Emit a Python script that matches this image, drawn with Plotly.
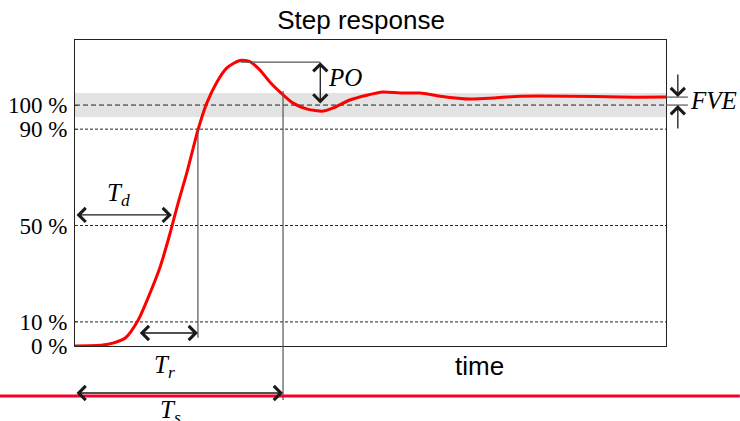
import plotly.graph_objects as go

# ---------------- data ----------------
time = [0.00, 0.47, 0.64, 0.85, 1.07, 1.27, 1.44, 1.61, 1.74, 1.90, 2.08, 2.23,
        2.40, 2.57, 2.79, 2.96, 3.13, 3.30, 3.47, 3.69, 3.93, 4.20, 4.37,
        4.65, 4.94, 5.21, 5.50, 5.84, 6.18, 6.68, 7.07, 7.53, 8.38, 9.22, 10.0]
response = [0.0, 0.4, 1.2, 3.3, 10.8, 22.0, 32.8, 46.9, 58.9, 72.6, 89.6, 100.8,
            109.5, 115.4, 118.5, 118.0, 114.5, 109.5, 105.4, 100.8, 98.3, 97.5, 98.8,
            102.1, 104.1, 105.4, 105.0, 105.0, 103.7, 102.5, 102.9, 103.7, 103.7, 103.3, 103.3]

levels = [0, 10, 50, 90, 100]
level_labels = ["0 %", "10 %", "50 %", "90 %", "100 %"]
band = [95, 105]

t_delay, delay_level = 1.64, 54.4
t_10, t_90, rise_level = 1.07, 2.08, 5.4
t_settle, settle_top, settle_level, settle_bottom = 3.52, 105.8, -19.5, -22.4
t_peak, peak_level, t_po = 2.88, 117.8, 4.15
final_value = 103.3
t_fve, t_fve_tick = 10.20, 10.37
bottom_line_level, bottom_line_t = -20.7, [-1.27, 11.25]

X_RANGE = [0, 10]
Y_RANGE = [0, 127]


def xp(t):
    return (t - X_RANGE[0]) / (X_RANGE[1] - X_RANGE[0])


def yp(v):
    return (v - Y_RANGE[0]) / (Y_RANGE[1] - Y_RANGE[0])


SERIF = "Liberation Serif, Times New Roman, serif"
SANS = "Liberation Sans, Arial, sans-serif"
ARROW_COLOR = "#1a1a1a"
LINE_GRAY = "#555555"

fig = go.Figure()
fig.add_trace(go.Scatter(x=time, y=response, mode="lines",
                         line=dict(color="#ff0000", width=3, shape="spline", smoothing=0.7),
                         hoverinfo="skip", showlegend=False))

shapes = []
# tolerance band
shapes.append(dict(type="rect", xref="x", yref="y", x0=X_RANGE[0], x1=X_RANGE[1],
                   y0=band[0], y1=band[1], fillcolor="#e3e3e3", line=dict(width=0), layer="below"))
# level lines
for lv in levels[1:]:
    dash = "5px,3px" if lv == 100 else "3px,2px"
    shapes.append(dict(type="line", xref="x", yref="y", x0=X_RANGE[0], x1=X_RANGE[1],
                       y0=lv, y1=lv, line=dict(color="#222222", width=1, dash=dash), layer="below"))
# rise-time vertical
shapes.append(dict(type="line", xref="x", yref="y", x0=t_90, x1=t_90, y0=90, y1=rise_level - 2,
                   line=dict(color=LINE_GRAY, width=1.2)))
# settling-time vertical (extends below plot)
shapes.append(dict(type="line", xref="x", yref="paper", x0=t_settle, x1=t_settle,
                   y0=yp(settle_top), y1=yp(settle_bottom), line=dict(color=LINE_GRAY, width=1.2)))
# peak overshoot horizontal
shapes.append(dict(type="line", xref="x", yref="y", x0=t_peak - 0.08, x1=t_po, y0=peak_level, y1=peak_level,
                   line=dict(color=LINE_GRAY, width=1.2)))
# FVE ticks
for lv in [final_value, 100]:
    shapes.append(dict(type="line", xref="paper", yref="y", x0=xp(X_RANGE[1]), x1=xp(t_fve_tick),
                       y0=lv, y1=lv, line=dict(color=LINE_GRAY, width=1.2)))
# bottom red line
shapes.append(dict(type="line", xref="paper", yref="paper", x0=xp(bottom_line_t[0]), x1=xp(bottom_line_t[1]),
                   y0=yp(bottom_line_level), y1=yp(bottom_line_level),
                   line=dict(color="#f5002a", width=3)))

annotations = []
HEAD = 2.1


def arrow(x0, y0, x1, y1, both=True, xref="x", yref="y"):
    a = dict(x=x1, y=y1, xref=xref, yref=yref, text="", showarrow=True,
             arrowhead=4, arrowsize=HEAD, arrowwidth=1.3, arrowcolor=ARROW_COLOR,
             standoff=0, startstandoff=0)
    if xref == "paper":
        a.update(axref="pixel", ax=0)
    else:
        a.update(axref=xref, ax=x0)
    if yref == "paper":
        a.update(ayref="pixel", ay=0)
    else:
        a.update(ayref=yref, ay=y0)
    if both:
        a.update(arrowside="end+start", startarrowhead=4, startarrowsize=HEAD)
    annotations.append(a)


arrow(X_RANGE[0], delay_level, t_delay, delay_level)
arrow(t_10, rise_level, t_90, rise_level)
arrow(X_RANGE[0], 0, t_settle, yp(settle_level), yref="paper")
arrow(t_po, 100, t_po, peak_level)
arrow(0, 113.3, 0, final_value, both=False, xref="paper")
annotations[-1]["x"] = xp(t_fve)
arrow(0, 89.6, 0, 100, both=False, xref="paper")
annotations[-1]["x"] = xp(t_fve)


def label(text, x, y, xref="x", yref="y", font=SERIF, size=25, xanchor="center"):
    annotations.append(dict(text=text, x=x, y=y, xref=xref, yref=yref, showarrow=False,
                            xanchor=xanchor, yanchor="middle",
                            font=dict(family=font, size=size, color="black")))


label("<i>T<sub>d</sub></i>", 0.73, 63)
label("<i>T<sub>r</sub></i>", xp(1.52), yp(-8.5), xref="paper", yref="paper")
label("<i>T<sub>s</sub></i>", xp(1.61), yp(-27.0), xref="paper", yref="paper")
label("<i>PO</i>", 4.57, 111.6)
label("<i>FVE</i>", xp(10.38), 101.7, xref="paper", xanchor="left")
label("time", xp(6.85), yp(-8.3), xref="paper", yref="paper", font=SANS, size=26)

fig.update_layout(
    width=740, height=421,
    margin=dict(l=75, r=74, t=40, b=75, autoexpand=False),
    paper_bgcolor="white", plot_bgcolor="white",
    title=dict(text="Step response", x=xp(4.84), xref="paper", xanchor="center",
               y=1 - 20 / 421, yref="container", yanchor="middle",
               font=dict(family=SANS, size=26, color="black")),
    xaxis=dict(range=X_RANGE, showgrid=False, zeroline=False, showticklabels=False, ticks="",
               showline=True, linecolor="#222222", linewidth=1, mirror=True, automargin=False),
    yaxis=dict(range=Y_RANGE, showgrid=False, zeroline=False, tickvals=levels, ticktext=level_labels,
               ticks="inside", ticklen=3, tickcolor="#444444",
               tickfont=dict(family=SERIF, size=23, color="black"), ticklabelstandoff=2,
               showline=True, linecolor="#222222", linewidth=1, mirror=True, automargin=False),
    shapes=shapes, annotations=annotations, showlegend=False,
)

fig.write_html("out.html")
